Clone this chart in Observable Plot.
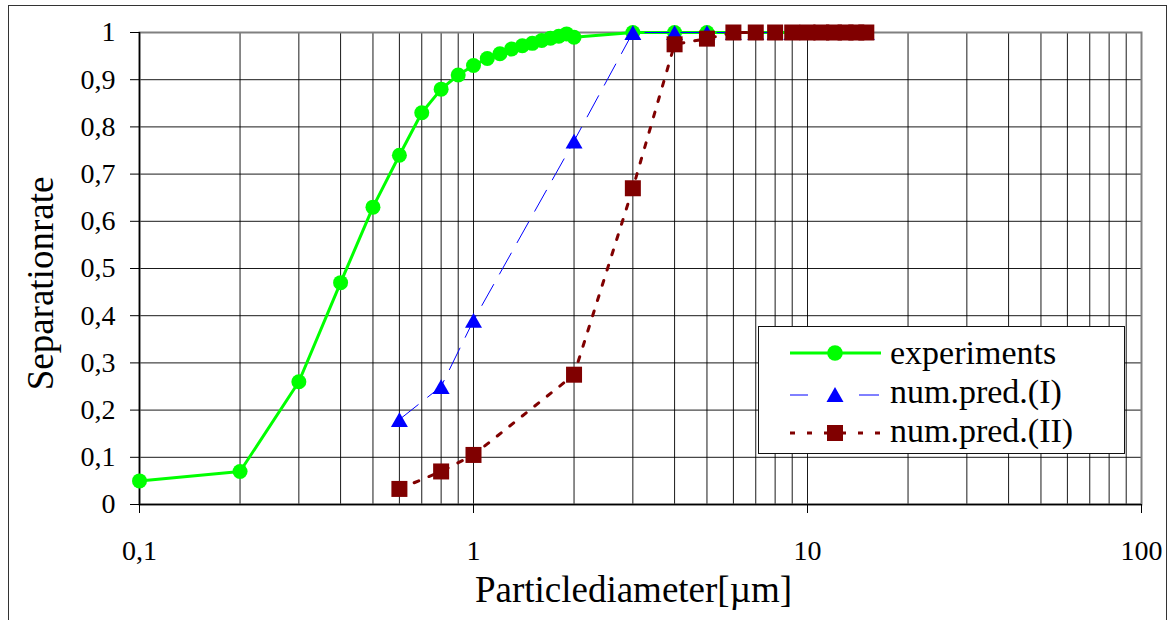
<!DOCTYPE html>
<html><head><meta charset="utf-8">
<script src="https://cdn.jsdelivr.net/npm/d3@7"></script>
<script src="https://cdn.jsdelivr.net/npm/@observablehq/plot@0.6"></script>
<style>
body{margin:0;background:#fff;}
#wrap{position:relative;width:1171px;height:620px;overflow:hidden;font-family:"Liberation Serif","Times New Roman",serif;background:#fff;}
#outer{position:absolute;left:8px;top:5px;width:1157px;height:640px;border:1.5px solid #333;pointer-events:none;}
#legend{position:absolute;left:758px;top:326px;width:365px;height:126px;border:1px solid #111;background:#fff;}
</style></head><body>
<div id="wrap"><div id="chart"></div><div id="outer"></div><div id="legend"></div></div>
<script>
// ---- data ----
const expX  = [0.1,0.2,0.3,0.4,0.5,0.6,0.7,0.8,0.9,1.0,1.1,1.2,1.3,1.4,1.5,1.6,1.7,1.8,1.9,2,3,4,5,6,7,8,9,10,11,12,13,14,15];
const expY  = [0.05,0.07,0.26,0.47,0.63,0.74,0.83,0.88,0.91,0.93,0.945,0.955,0.965,0.972,0.977,0.983,0.988,0.992,0.997,0.99,1,1,1,1,1,1,1,1,1,1,1,1,1];
const predX = [0.6,0.8,1,2,3,4,5,6,7,8,9,10,11,12,13,14,15];
const predIY  = [0.18,0.25,0.39,0.77,1,1,1,1,1,1,1,1,1,1,1,1,1];
const predIIY = [0.033,0.07,0.105,0.275,0.67,0.975,0.987,1,1,1,1,1,1,1,1,1,1];
const xTicks = [0.1,1,10,100];
const xGrid = [0.2,0.3,0.4,0.5,0.6,0.7,0.8,0.9,1,2,3,4,5,6,7,8,9,10,20,30,40,50,60,70,80,90];
const yTicks = [0,0.1,0.2,0.3,0.4,0.5,0.6,0.7,0.8,0.9,1];
const seriesNames = ["experiments","num.pred.(I)","num.pred.(II)"];
const xTitle = "Particlediameter[µm]";
const yTitle = "Separationrate";

const exp = expX.map((x,i)=>({x, y:expY[i]}));
const p1 = predX.map((x,i)=>({x, y:predIY[i]}));
const p2 = predX.map((x,i)=>({x, y:predIIY[i]}));
const fmt = d => String(+(+d).toFixed(2)).replace(".", ",");

const GREEN="#00ff00", BLUE="#0000ff", RED="#800000";

const chart = Plot.plot({
  width:1171, height:620,
  marginLeft:139, marginRight:30, marginTop:32, marginBottom:116,
  style:{fontFamily:"'Liberation Serif','Times New Roman',serif", fontSize:"28px", color:"#000", background:"transparent"},
  x:{type:"log", domain:[0.1,100]},
  y:{domain:[0,1]},
  marks:[
    Plot.ruleX(xGrid, {stroke:"#000", strokeWidth:1, strokeOpacity:0.9}),
    Plot.ruleY(yTicks.slice(1), {stroke:"#000", strokeWidth:1, strokeOpacity:0.9}),
    Plot.frame({stroke:"#808080", strokeWidth:2}),
    Plot.ruleX([0.1], {stroke:"#000", strokeWidth:1.5}),
    Plot.ruleY([0], {stroke:"#000", strokeWidth:1.5}),
    Plot.axisY({ticks:yTicks, tickFormat:fmt, tickSize:9, tickPadding:15, label:null, fontSize:28}),
    Plot.axisX({ticks:xTicks, tickFormat:fmt, tickSize:9, tickPadding:27, label:null, fontSize:28}),
    Plot.text([xTitle], {frameAnchor:"bottom", textAnchor:"middle", lineAnchor:"middle", dy:86, dx:-7, fontSize:37}),
    Plot.text([yTitle], {frameAnchor:"left", textAnchor:"middle", lineAnchor:"middle", rotate:-90, dx:-98, dy:15, fontSize:37}),
    Plot.line(exp, {x:"x", y:"y", stroke:GREEN, strokeWidth:3}),
    Plot.dot(exp, {x:"x", y:"y", r:7.5, fill:GREEN, stroke:"none"}),
    Plot.line(p1, {x:"x", y:"y", stroke:BLUE, strokeWidth:1, strokeDasharray:"24,12"}),
    Plot.dot(p1, {x:"x", y:"y", symbol:"triangle", r:6.3, dy:2.5, fill:BLUE, stroke:"none"}),
    Plot.line(p2, {x:"x", y:"y", stroke:RED, strokeWidth:3, strokeDasharray:"5,11"}),
    Plot.dot(p2, {x:"x", y:"y", symbol:"square", r:9.03, fill:RED, stroke:"none"})
  ]
});
document.getElementById("chart").appendChild(chart);

// ---- legend ----
const rows = [
  {name:seriesNames[0], y:26, tb:37},
  {name:seriesNames[1], y:68, tb:76},
  {name:seriesNames[2], y:106, tb:115}
];
const lg = d3.select("#legend").append("svg").attr("width",365).attr("height",126)
  .style("font-family","'Liberation Serif','Times New Roman',serif");
lg.append("line").attr("x1",31).attr("x2",122).attr("y1",rows[0].y).attr("y2",rows[0].y)
  .attr("stroke",GREEN).attr("stroke-width",3);
lg.append("circle").attr("cx",76).attr("cy",rows[0].y).attr("r",7.8).attr("fill",GREEN);
lg.append("line").attr("x1",31).attr("x2",49).attr("y1",rows[1].y).attr("y2",rows[1].y)
  .attr("stroke",BLUE).attr("stroke-width",1);
lg.append("line").attr("x1",100).attr("x2",120).attr("y1",rows[1].y).attr("y2",rows[1].y)
  .attr("stroke",BLUE).attr("stroke-width",1);
lg.append("path").attr("d",`M76,${rows[1].y-8}L84.5,${rows[1].y+7}L67.5,${rows[1].y+7}Z`).attr("fill",BLUE);
lg.append("line").attr("x1",31).attr("x2",122).attr("y1",rows[2].y).attr("y2",rows[2].y)
  .attr("stroke",RED).attr("stroke-width",3).attr("stroke-dasharray","5,12");
lg.append("rect").attr("x",68).attr("y",rows[2].y-8).attr("width",16).attr("height",16).attr("fill",RED);
rows.forEach(r=>{
  lg.append("text").attr("x",131).attr("y",r.tb).attr("font-size",34).attr("fill","#000").text(r.name);
});
</script>
</body></html>
